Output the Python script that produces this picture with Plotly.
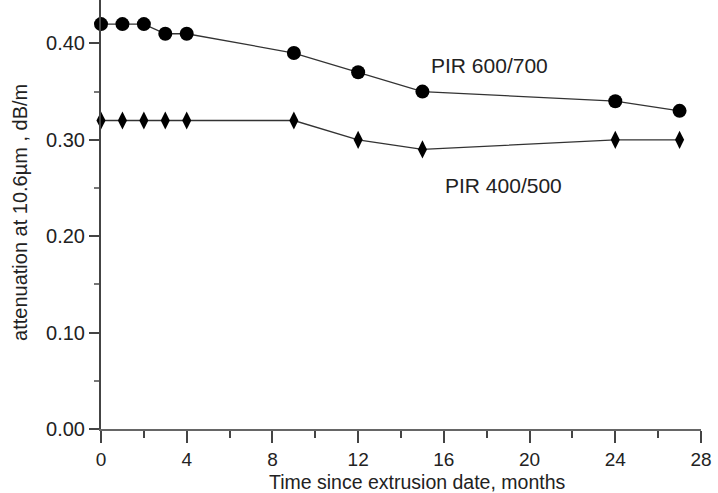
import plotly.graph_objects as go

months = [0, 1, 2, 3, 4, 9, 12, 15, 24, 27]
pir_600_700 = [0.42, 0.42, 0.42, 0.41, 0.41, 0.39, 0.37, 0.35, 0.34, 0.33]
pir_400_500 = [0.32, 0.32, 0.32, 0.32, 0.32, 0.32, 0.30, 0.29, 0.30, 0.30]
x_ticks = [0, 4, 8, 12, 16, 20, 24, 28]
y_ticks = [0.0, 0.1, 0.2, 0.3, 0.4]
y_tick_labels = ["0.00", "0.10", "0.20", "0.30", "0.40"]

FONT = "Liberation Sans, Arial, sans-serif"

fig = go.Figure()
fig.add_trace(go.Scatter(
    x=months, y=pir_600_700, mode="lines+markers", name="PIR 600/700",
    line=dict(color="#333333", width=1.3),
    marker=dict(symbol="circle", size=14, color="black"),
    cliponaxis=False,
))
fig.add_trace(go.Scatter(
    x=months, y=pir_400_500, mode="lines+markers", name="PIR 400/500",
    line=dict(color="#333333", width=1.3),
    marker=dict(symbol="diamond-tall", size=13, color="black"),
    cliponaxis=False,
))

fig.add_annotation(x=18.15, y=0.377, text="PIR 600/700", showarrow=False,
                   xanchor="center", yanchor="middle",
                   font=dict(family=FONT, size=21, color="#222222"))
fig.add_annotation(x=18.76, y=0.253, text="PIR 400/500", showarrow=False,
                   xanchor="center", yanchor="middle",
                   font=dict(family=FONT, size=21, color="#222222"))

# axis titles placed as paper annotations for exact positioning
fig.add_annotation(xref="paper", yref="paper", x=0.527, y=-0.123,
                   xanchor="center", yanchor="middle",
                   text="Time since extrusion date, months", showarrow=False,
                   font=dict(family=FONT, size=19.5, color="#222222"))
fig.add_annotation(xref="paper", yref="paper", x=-0.134, y=0.505, textangle=-90,
                   xanchor="center", yanchor="middle",
                   text="attenuation at 10.6µm , dB/m", showarrow=False,
                   font=dict(family=FONT, size=20, color="#222222"))

fig.update_layout(
    width=718, height=493,
    margin=dict(l=101, r=17, t=0, b=64, autoexpand=False),
    paper_bgcolor="white", plot_bgcolor="white",
    showlegend=False,
    font=dict(family=FONT, size=20, color="#222222"),
)
fig.update_xaxes(
    range=[0, 28], tickvals=x_ticks, ticks="outside", ticklen=12, tickwidth=2,
    tickcolor="#444444", automargin=False,
    showline=True, linecolor="#666666", linewidth=2, showgrid=False, zeroline=False,
    minor=dict(ticks="outside", dtick=2, tick0=0, ticklen=7, tickwidth=2, tickcolor="#444444"),
    tickfont=dict(size=19),
)
fig.update_yaxes(
    range=[0, 0.445], tickvals=y_ticks, ticktext=y_tick_labels, ticks="outside",
    ticklen=10, tickwidth=2, tickcolor="#444444", automargin=False,
    showline=True, linecolor="#444444", linewidth=2, showgrid=False, zeroline=False,
    minor=dict(ticks="outside", dtick=0.05, tick0=0, ticklen=5, tickwidth=2, tickcolor="#777777"),
    tickfont=dict(size=20),
)

fig.write_html("out.html", config={"displayModeBar": False},
               post_script="document.body.style.margin='0';")
